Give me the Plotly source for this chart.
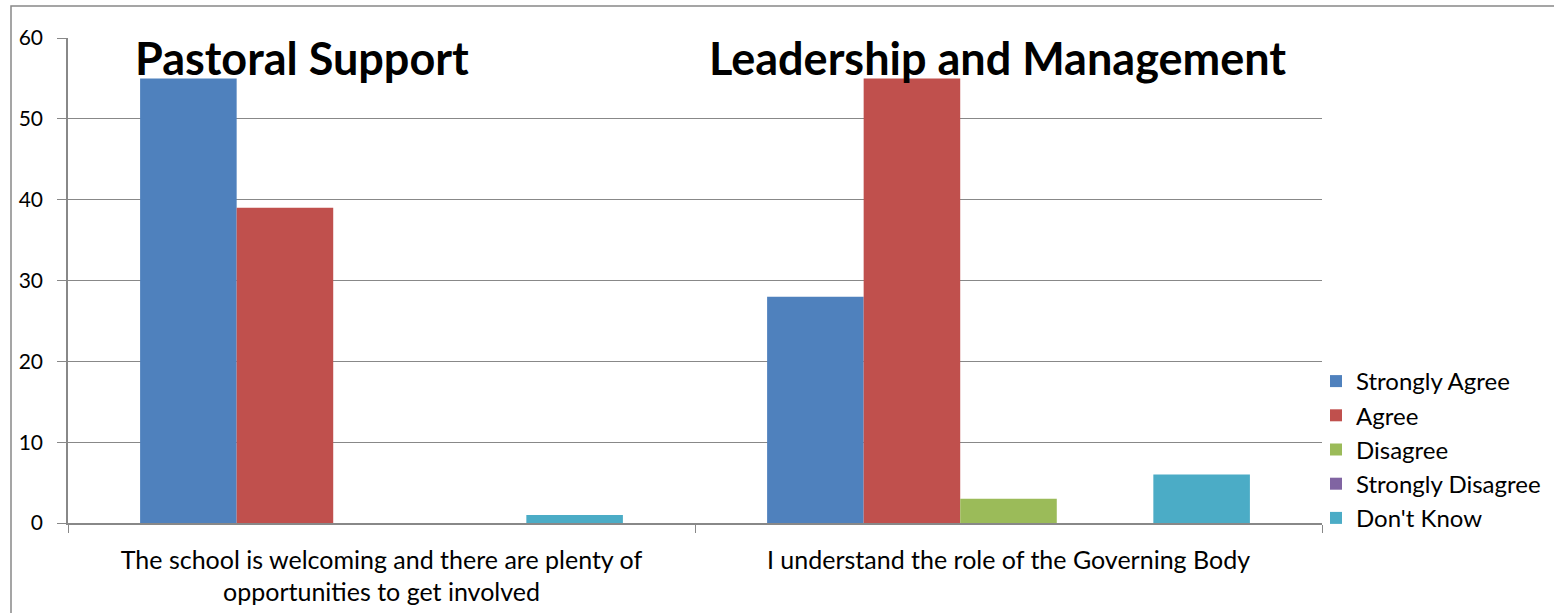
import plotly.graph_objects as go

categories = ["The school is welcoming and there are plenty of<br>opportunities to get involved",
              "I understand the role of the Governing Body"]
series_names = ["Strongly Agree", "Agree", "Disagree", "Strongly Disagree", "Don't Know"]
strongly_agree = [55, 28]
agree = [39, 55]
disagree = [0, 3]
strongly_disagree = [0, 0]
dont_know = [1, 6]
colors = ["#4F81BD", "#C0504D", "#9BBB59", "#8064A2", "#4BACC6"]
y_ticks = [0, 10, 20, 30, 40, 50, 60]
section_titles = ["Pastoral Support", "Leadership and Management"]

W, H = 1554, 613
ml, mr, mt, mb = 68, 232, 38, 90
pw, ph = W - ml - mr, H - mt - mb
FONT = "Lato, sans-serif"

fig = go.Figure()
for name, vals, col in zip(series_names,
                           [strongly_agree, agree, disagree, strongly_disagree, dont_know],
                           colors):
    fig.add_trace(go.Bar(name=name, x=categories, y=vals, marker_color=col,
                         marker_line_width=0))

def px_x(p):
    return (p - ml) / pw

def px_y(p):
    return (H - mb - p) / ph

fig.update_layout(
    width=W, height=H,
    margin=dict(l=ml, r=mr, t=mt, b=mb, autoexpand=False),
    barmode="group", bargap=0.23, bargroupgap=0,
    plot_bgcolor="white", paper_bgcolor="white",
    font=dict(family=FONT, size=20, color="black"),
    showlegend=True,
    legend=dict(x=px_x(1316), xanchor="left", y=px_y(359), yanchor="top",
                font=dict(size=24), itemwidth=30,
                bgcolor="rgba(0,0,0,0)"),
    xaxis=dict(showline=True, linecolor="#888888", linewidth=1.5, automargin=False,
               ticks="outside", tickson="boundaries", ticklen=8, tickcolor="#888888",
               tickfont=dict(size=25), ticklabelstandoff=14),
    yaxis=dict(range=[0, 60], tickvals=y_ticks, showgrid=True, gridcolor="#888888",
               gridwidth=1.2, showline=True, linecolor="#888888", linewidth=1.5,
               automargin=False,
               ticks="outside", ticklen=9, tickcolor="#888888", zeroline=False,
               tickfont=dict(size=21), ticklabelstandoff=10),
)

fig.add_annotation(text="<b>%s</b>" % section_titles[0], xref="paper", yref="paper",
                   x=px_x(302), y=px_y(58), xanchor="center", yanchor="middle",
                   showarrow=False, font=dict(size=45, color="black"))
fig.add_annotation(text="<b>%s</b>" % section_titles[1], xref="paper", yref="paper",
                   x=px_x(997), y=px_y(58), xanchor="center", yanchor="middle",
                   showarrow=False, font=dict(size=45, color="black"))

fig.add_shape(type="rect", xref="paper", yref="paper",
              x0=px_x(11), x1=px_x(1600), y0=px_y(700), y1=px_y(6),
              line=dict(color="#888888", width=1.5), fillcolor="rgba(0,0,0,0)",
              layer="below")

fig.write_html("out.html", config={"displayModeBar": False},
               post_script="document.body.style.margin='0px';")
